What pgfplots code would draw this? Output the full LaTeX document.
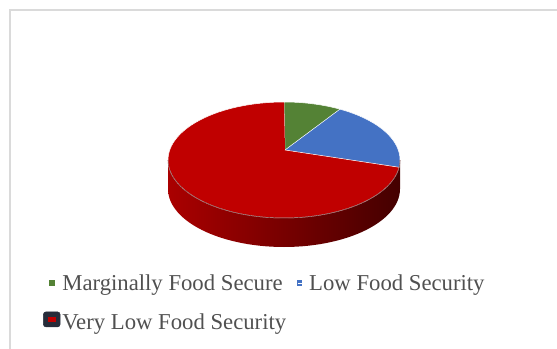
\documentclass[border=0pt]{standalone}
\usepackage{pgfplots}
\usepackage{pgfplotstable}
\pgfplotsset{compat=1.18}
\usepackage{fontspec}
\setmainfont{Liberation Serif}
\definecolor{cgreen}{RGB}{84,130,53}
\definecolor{cblue}{RGB}{68,114,196}
\definecolor{cred}{RGB}{192,0,0}
\definecolor{sideL}{RGB}{170,0,0}
\definecolor{sideR}{RGB}{68,0,0}
\definecolor{legtext}{RGB}{80,80,80}
\definecolor{frame}{RGB}{218,218,218}
\definecolor{selbox}{RGB}{38,44,58}
\pgfplotstableread{
label value
Marginally 8
Low 19
VeryLow 73
}\piedata
\begin{document}
\begin{tikzpicture}
\pgfplotstablegetelem{0}{value}\of\piedata \let\va\pgfplotsretval
\pgfplotstablegetelem{1}{value}\of\piedata \let\vb\pgfplotsretval
\pgfplotstablegetelem{2}{value}\of\piedata \let\vc\pgfplotsretval
\pgfmathsetmacro\total{\va+\vb+\vc}
\pgfmathsetmacro\aA{90}
\pgfmathsetmacro\aB{90-360*\va/\total}
\pgfmathsetmacro\aC{\aB-360*\vb/\total}
\pgfmathsetmacro\aD{-270}
\begin{axis}[
  scale only axis, width=557bp, height=349bp,
  xmin=0, xmax=557, ymin=0, ymax=349, y dir=reverse,
  hide axis, clip=false,
  legend columns=2, legend cell align=left,
  legend style={at={(axis cs:40,270.4)}, anchor=north west, draw=none, fill=none,
    inner xsep=3pt, inner ysep=2pt, row sep=17.6pt,
    font=\fontsize{22.8}{26}\selectfont, text=legtext,
    nodes={inner sep=2pt, text depth=0.15em},
    /tikz/every even column/.append style={column sep=9.2pt}},
]
% frame
\draw[frame, line width=1.5bp] (axis cs:9,10) -- (axis cs:557,10);
\draw[frame, line width=1.5bp] (axis cs:10,10) -- (axis cs:10,349);
% side of the pie
\addplot[forget plot, draw=none, left color=sideL, right color=sideR, samples at={0,1,...,121}]
  ({ifthenelse(x<=60, 284+116*cos(-3*x), 284+116*cos(-180+3*(x-61)))},
   {ifthenelse(x<=60, 160-58*sin(-3*x), 189-58*sin(-180+3*(x-61)))});
% slices (top face)
\addplot[fill=cgreen, draw=white, line width=0.5bp, samples at={-1,0,1,...,60},
  legend image code/.code={\fill[cgreen] (-2.35pt,-1.9pt) rectangle (2.35pt,3.1pt);}]
  ({ifthenelse(x<0,285,284+116*cos(\aA+(\aB-\aA)*x/60))},
   {ifthenelse(x<0,150,160-58*sin(\aA+(\aB-\aA)*x/60))});
\addlegendentry{Marginally Food Secure}
\addplot[fill=cblue, draw=white, line width=0.5bp, samples at={-1,0,1,...,60},
  legend image code/.code={\fill[cblue] (0pt,-1.9pt) rectangle (3.3pt,3.1pt); \path (0pt,0pt) -- (9.3pt,0pt);}]
  ({ifthenelse(x<0,285,284+116*cos(\aB+(\aC-\aB)*x/60))},
   {ifthenelse(x<0,150,160-58*sin(\aB+(\aC-\aB)*x/60))});
\addlegendentry{Low Food Security}
\addplot[fill=cred, draw=white, line width=0.5bp, samples at={-1,0,1,...,90},
  legend image code/.code={\fill[selbox, rounded corners=2.5pt] (-8.35pt,-4.9pt) rectangle (8.35pt,10.1pt);
     \fill[cred] (-3.35pt,0.6pt) rectangle (3.35pt,4.6pt);}]
  ({ifthenelse(x<0,285,284+116*cos(\aC+(\aD-\aC)*x/90))},
   {ifthenelse(x<0,150,160-58*sin(\aC+(\aD-\aC)*x/90))});
\addlegendentry{Very Low Food Security}
% rim line of the top face
\addplot[forget plot, draw=black!70!red, opacity=0.6, line width=0.6bp, samples at={0,1,...,60}]
  ({284+116*cos(-3*x)}, {160-58*sin(-3*x)});
\end{axis}
\pgfresetboundingbox
\path (current axis.south west) rectangle (current axis.north east);
\end{tikzpicture}
\end{document}
